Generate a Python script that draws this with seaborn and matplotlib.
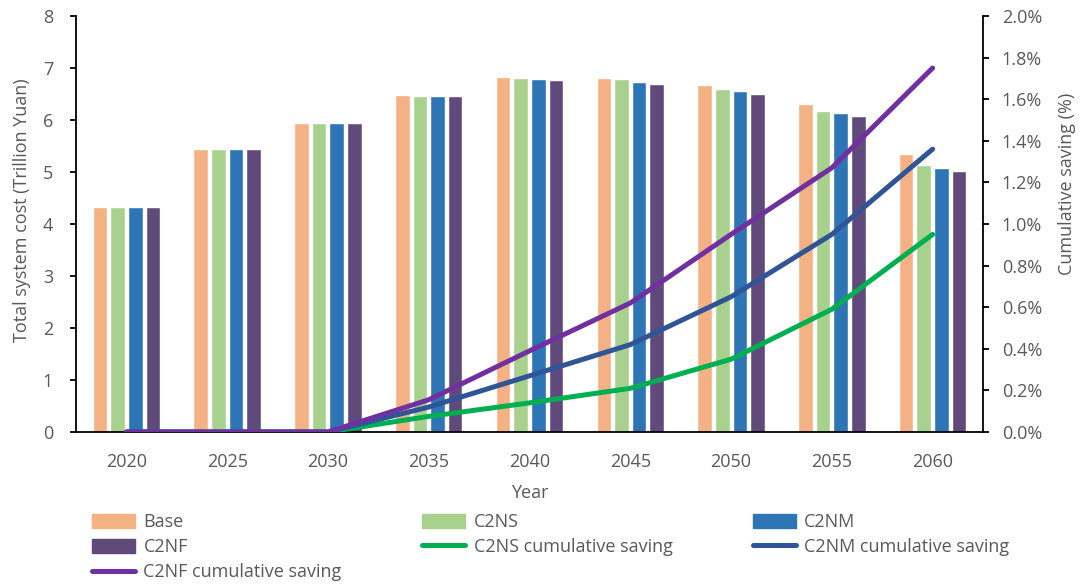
#!/usr/bin/env python3
"""total system cost by scenario with cumulative saving lines"""

import matplotlib.pyplot as plt
import matplotlib.patches as mpatches
import matplotlib.lines as mlines
import matplotlib.ticker as mticker
import numpy as np
import pandas as pd
import seaborn as sns

years = ["2020", "2025", "2030", "2035", "2040", "2045", "2050", "2055", "2060"]

# total system cost, trillion yuan
cost_base = [4.33, 5.45, 5.95, 6.49, 6.82, 6.80, 6.67, 6.30, 5.35]
cost_c2ns = [4.33, 5.45, 5.95, 6.47, 6.80, 6.78, 6.60, 6.17, 5.13]
cost_c2nm = [4.33, 5.45, 5.95, 6.47, 6.78, 6.73, 6.56, 6.13, 5.07]
cost_c2nf = [4.33, 5.45, 5.95, 6.47, 6.76, 6.69, 6.50, 6.08, 5.02]

# cumulative saving, percent
saving_c2ns = [0.0, 0.0, 0.0, 0.075, 0.14, 0.21, 0.35, 0.59, 0.95]
saving_c2nm = [0.0, 0.0, 0.0, 0.12, 0.27, 0.42, 0.65, 0.95, 1.36]
saving_c2nf = [0.0, 0.0, 0.0, 0.155, 0.39, 0.62, 0.95, 1.27, 1.75]

bar_names = ["Base", "C2NS", "C2NM", "C2NF"]
bar_colors = ["#F4B183", "#A9D18E", "#2E75B6", "#604A7B"]
line_names = ["C2NS cumulative saving", "C2NM cumulative saving", "C2NF cumulative saving"]
line_colors = ["#00B050", "#2F5597", "#7030A0"]

sns.set_style("white")
plt.rcParams["font.family"] = ["Open Sans", "DejaVu Sans"]
text_color = "#595959"

bars = pd.DataFrame({
    "year": years * 4,
    "scenario": np.repeat(bar_names, len(years)),
    "cost": cost_base + cost_c2ns + cost_c2nm + cost_c2nf,
})
lines = pd.DataFrame({
    "pos": list(range(len(years))) * 3,
    "scenario": np.repeat(line_names, len(years)),
    "saving": saving_c2ns + saving_c2nm + saving_c2nf,
})

fig = plt.figure(figsize=(10.83, 5.87), dpi=100)
ax = fig.add_axes([76 / 1083, 1 - 432 / 587, (983 - 76) / 1083, (432 - 16) / 587])

sns.barplot(data=bars, x="year", y="cost", hue="scenario", order=years,
            hue_order=bar_names, palette=bar_colors, saturation=1,
            width=0.7, gap=0.17, legend=False, ax=ax)
ax.set_ylim(0, 8)
ax.set_xlim(-0.5, len(years) - 0.5)

ax2 = ax.twinx()
sns.lineplot(data=lines, x="pos", y="saving", hue="scenario", hue_order=line_names,
             palette=line_colors, linewidth=3.6, legend=False, ax=ax2,
             solid_capstyle="round")
ax2.set_ylim(0, 2.0)
ax2.yaxis.set_major_locator(mticker.MultipleLocator(0.2))
ax2.yaxis.set_major_formatter(mticker.FuncFormatter(lambda v, p: f"{v:.1f}%"))
ax.set_xlim(-0.5, len(years) - 0.5)

for a in (ax, ax2):
    for s in a.spines.values():
        s.set_visible(False)
ax.spines["left"].set_visible(True)
ax.spines["bottom"].set_visible(True)
ax2.spines["right"].set_visible(True)
for s in (ax.spines["left"], ax.spines["bottom"], ax2.spines["right"]):
    s.set_color("black")
    s.set_linewidth(1.3)

ax.tick_params(axis="y", left=True, length=4.5, width=1.3, color="black",
               pad=12, labelsize=13, labelcolor=text_color)
ax.tick_params(axis="x", bottom=False, length=0, pad=15, labelsize=13,
               labelcolor=text_color)
ax2.tick_params(axis="y", right=True, length=4.5, width=1.3, color="black",
                pad=9, labelsize=13, labelcolor=text_color)

ax.set_xlabel("Year", fontsize=13, color=text_color)
ax.set_ylabel("Total system cost (Trillion Yuan)", fontsize=13, color=text_color)
ax2.set_ylabel("Cumulative saving (%)", fontsize=13, color=text_color)
ax.xaxis.set_label_coords(0.5, -0.125)
ax.yaxis.set_label_coords(-0.05, 0.534)
ax2.yaxis.set_label_coords(1.083, 0.596)

patches = [mpatches.Patch(color=c, label=n) for n, c in zip(bar_names, bar_colors)]
handles = [mlines.Line2D([], [], color=c, linewidth=3.6, solid_capstyle="round", label=n)
           for n, c in zip(line_names, line_colors)]
# column-major order so rows read Base, C2NS, C2NM / C2NF, ...
order = [patches[0], patches[3], handles[2], patches[1], handles[0], patches[2], handles[1]]
leg = fig.legend(handles=order, loc="upper left", bbox_to_anchor=(92 / 1083, 1 - 513 / 587),
                 ncol=3, frameon=False, fontsize=13, handlelength=2.4, handleheight=0.85,
                 handletextpad=0.45, columnspacing=4.45, labelspacing=0.4,
                 borderpad=0, borderaxespad=0)
for t in leg.get_texts():
    t.set_color(text_color)

fig.savefig("out.png", dpi=100, facecolor="white")
